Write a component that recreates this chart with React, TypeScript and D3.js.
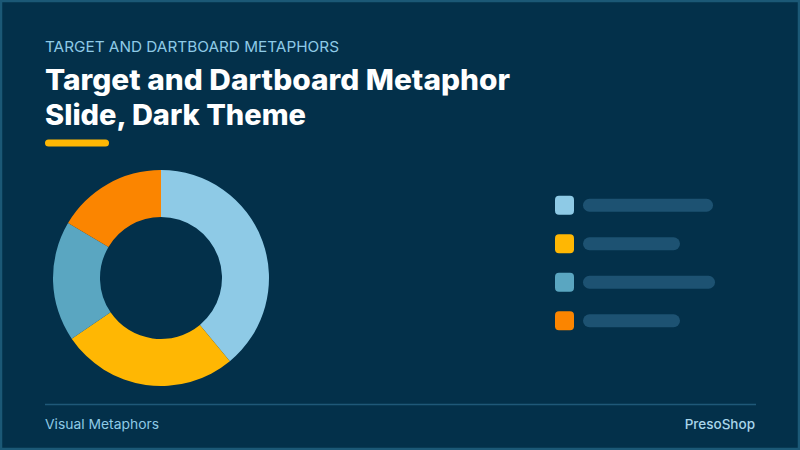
import React from "react";
import * as d3 from "d3";

const categories = ["Segment A", "Segment B", "Segment C", "Segment D"];
const values = [39, 26.5, 18, 16.5];
const colors = ["#8ecae6", "#ffb703", "#5aa6c1", "#fb8500"];
const legendBarLengths = [130, 97, 132, 97];

const W = 800;
const H = 450;
const BG = "#03304a";
const FONT = "Inter, 'Open Sans', sans-serif";

export default function App() {
  const cx = 161;
  const cy = 278;
  const outerR = 108;
  const innerR = 61;

  const pie = d3
    .pie<number>()
    .sort(null)
    .value((d) => d);
  const arcs = pie(values);
  const arcGen = d3
    .arc<d3.PieArcDatum<number>>()
    .innerRadius(innerR)
    .outerRadius(outerR);

  const legendY = d3
    .scaleBand<string>()
    .domain(categories)
    .range([186, 340])
    .paddingInner(0);
  const barX = d3.scaleLinear().domain([0, 132]).range([0, 132]);

  return (
    <svg
      width={W}
      height={H}
      style={{ position: "absolute", left: 0, top: 0, display: "block" }}
    >
      <rect x={0} y={0} width={W} height={H} fill={BG} />
      <rect
        x={1}
        y={1}
        width={W - 2}
        height={H - 2}
        fill="none"
        stroke="#1b5876"
        strokeWidth={2.5}
      />
      <text
        x={45}
        y={52}
        fill="#8ecae6"
        fontFamily={FONT}
        fontSize={15}
        fontWeight={400}
        textLength={294}
        lengthAdjust="spacingAndGlyphs"
      >
        TARGET AND DARTBOARD METAPHORS
      </text>
      <text
        x={45}
        y={90}
        fill="#ffffff"
        fontFamily={FONT}
        fontSize={28}
        fontWeight={800}
        textLength={465}
        lengthAdjust="spacingAndGlyphs"
      >
        Target and Dartboard Metaphor
      </text>
      <text
        x={45}
        y={125}
        fill="#ffffff"
        fontFamily={FONT}
        fontSize={28}
        fontWeight={800}
        textLength={261}
        lengthAdjust="spacingAndGlyphs"
      >
        Slide, Dark Theme
      </text>
      <rect x={45} y={139.5} width={64} height={7} rx={3.5} fill="#ffb703" />

      <g transform={`translate(${cx},${cy})`}>
        {arcs.map((a, i) => (
          <path key={categories[i]} d={arcGen(a) || ""} fill={colors[i]} />
        ))}
      </g>

      <g>
        {categories.map((c, i) => {
          const y = (legendY(c) as number) + legendY.bandwidth() / 2;
          return (
            <g key={c}>
              <rect
                x={555}
                y={y - 9.5}
                width={19}
                height={19}
                rx={4}
                fill={colors[i]}
              />
              <rect
                x={583}
                y={y - 6.5}
                width={barX(legendBarLengths[i])}
                height={13}
                rx={6.5}
                fill="#1d5272"
              />
            </g>
          );
        })}
      </g>

      <line x1={45} x2={756} y1={404.5} y2={404.5} stroke="#1f5878" strokeWidth={1.5} />
      <text
        x={45}
        y={429}
        fill="#8ecae6"
        fontFamily={FONT}
        fontSize={13}
        textLength={114}
        lengthAdjust="spacingAndGlyphs"
      >
        Visual Metaphors
      </text>
      <text
        x={755}
        y={429}
        fill="#a9d6ea"
        fontFamily={FONT}
        fontSize={13.5}
        fontWeight={500}
        textAnchor="end"
      >
        PresoShop
      </text>
    </svg>
  );
}
